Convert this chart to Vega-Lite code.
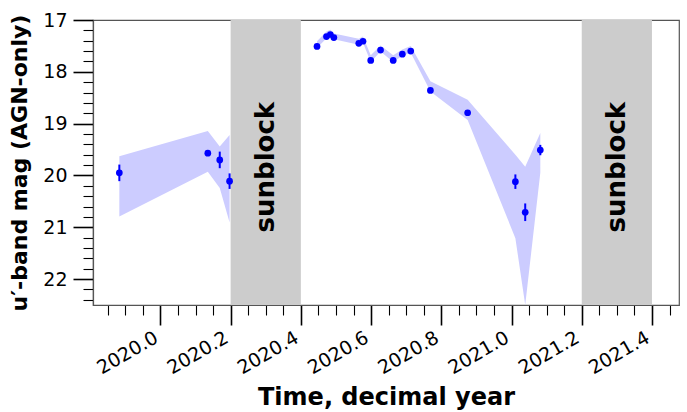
{
  "$schema": "https://vega.github.io/schema/vega-lite/v6.json",
  "width": 586,
  "height": 285,
  "autosize": "none",
  "padding": {"left": 93, "top": 20, "right": 8, "bottom": 107},
  "background": "white",
  "config": {
    "font": "DejaVu Sans",
    "view": {"stroke": "#555555", "strokeWidth": 1.2},
    "axis": {"labelFont": "DejaVu Sans", "titleFont": "DejaVu Sans", "labelColor": "black", "titleColor": "black", "grid": false}
  },
  "datasets": {
    "points": [
      {"t": 2019.883, "m": 19.95, "e": 0.16},
      {"t": 2020.135, "m": 19.57, "e": 0.04},
      {"t": 2020.169, "m": 19.70, "e": 0.16},
      {"t": 2020.197, "m": 20.11, "e": 0.15},
      {"t": 2020.446, "m": 17.51, "e": 0.03},
      {"t": 2020.473, "m": 17.32, "e": 0.03},
      {"t": 2020.484, "m": 17.28, "e": 0.03},
      {"t": 2020.494, "m": 17.34, "e": 0.03},
      {"t": 2020.565, "m": 17.45, "e": 0.03},
      {"t": 2020.577, "m": 17.41, "e": 0.03},
      {"t": 2020.599, "m": 17.78, "e": 0.03},
      {"t": 2020.627, "m": 17.58, "e": 0.03},
      {"t": 2020.663, "m": 17.78, "e": 0.03},
      {"t": 2020.689, "m": 17.66, "e": 0.03},
      {"t": 2020.713, "m": 17.60, "e": 0.03},
      {"t": 2020.769, "m": 18.36, "e": 0.04},
      {"t": 2020.875, "m": 18.79, "e": 0.04},
      {"t": 2021.011, "m": 20.12, "e": 0.14},
      {"t": 2021.039, "m": 20.71, "e": 0.17},
      {"t": 2021.082, "m": 19.51, "e": 0.10}
    ],
    "band": [
      {"season": "A", "t": 2019.883, "lo": 19.63, "hi": 20.79},
      {"season": "A", "t": 2020.135, "lo": 19.14, "hi": 19.93},
      {"season": "A", "t": 2020.169, "lo": 19.44, "hi": 20.24},
      {"season": "A", "t": 2020.197, "lo": 19.22, "hi": 20.91},
      {"season": "B", "t": 2020.446, "lo": 17.41, "hi": 17.54},
      {"season": "B", "t": 2020.473, "lo": 17.22, "hi": 17.35},
      {"season": "B", "t": 2020.484, "lo": 17.19, "hi": 17.31},
      {"season": "B", "t": 2020.494, "lo": 17.26, "hi": 17.37},
      {"season": "B", "t": 2020.565, "lo": 17.36, "hi": 17.48},
      {"season": "B", "t": 2020.577, "lo": 17.32, "hi": 17.44},
      {"season": "B", "t": 2020.599, "lo": 17.68, "hi": 17.81},
      {"season": "B", "t": 2020.627, "lo": 17.49, "hi": 17.61},
      {"season": "B", "t": 2020.663, "lo": 17.68, "hi": 17.81},
      {"season": "B", "t": 2020.689, "lo": 17.57, "hi": 17.69},
      {"season": "B", "t": 2020.713, "lo": 17.50, "hi": 17.63},
      {"season": "B", "t": 2020.769, "lo": 18.18, "hi": 18.38},
      {"season": "B", "t": 2020.875, "lo": 18.54, "hi": 18.93},
      {"season": "B", "t": 2021.011, "lo": 19.60, "hi": 21.21},
      {"season": "B", "t": 2021.039, "lo": 19.83, "hi": 22.5},
      {"season": "B", "t": 2021.082, "lo": 19.18, "hi": 19.95}
    ],
    "sun": [
      {"start": 2020.2, "end": 2020.4, "mid": 2020.3, "label": "sunblock", "ypos": 19.84},
      {"start": 2021.2, "end": 2021.4, "mid": 2021.3, "label": "sunblock", "ypos": 19.84}
    ]
  },
  "layer": [
    {
      "data": {"name": "band"},
      "mark": {"type": "area", "color": "#ccccff", "opacity": 1, "clip": true},
      "encoding": {
        "x": {"field": "t", "type": "quantitative", "scale": {"domain": [2019.808, 2021.477], "nice": false, "zero": false},
          "axis": {"orient": "bottom", "values": [2019.85, 2019.9, 2019.95, 2020.05, 2020.1, 2020.15, 2020.25, 2020.3, 2020.35, 2020.45, 2020.5, 2020.55, 2020.65, 2020.7, 2020.75, 2020.85, 2020.9, 2020.95, 2021.05, 2021.1, 2021.15, 2021.25, 2021.3, 2021.35, 2021.45],
            "labels": false, "domain": false, "ticks": true, "tickSize": 10, "tickWidth": 1.1, "tickColor": "black", "title": null}},
        "y": {"field": "lo", "type": "quantitative", "scale": {"domain": [17, 22.5], "reverse": true, "nice": false, "zero": false},
          "axis": {"orient": "left", "values": [17.2, 17.4, 17.6, 17.8, 18.2, 18.4, 18.6, 18.8, 19.2, 19.4, 19.6, 19.8, 20.2, 20.4, 20.6, 20.8, 21.2, 21.4, 21.6, 21.8, 22.2, 22.4],
            "labels": false, "domain": false, "ticks": true, "tickSize": 10, "tickWidth": 1.1, "tickColor": "black", "title": null}},
        "y2": {"field": "hi"},
        "detail": {"field": "season"}
      }
    },
    {
      "data": {"name": "sun"},
      "mark": {"type": "rect", "color": "#cccccc"},
      "encoding": {
        "x": {"field": "start", "type": "quantitative", "axis": null},
        "x2": {"field": "end"}
      }
    },
    {
      "data": {"name": "points"},
      "transform": [{"calculate": "datum.m - datum.e", "as": "elo"}, {"calculate": "datum.m + datum.e", "as": "ehi"}],
      "mark": {"type": "rule", "color": "#0000ff", "strokeWidth": 2},
      "encoding": {
        "x": {"field": "t", "type": "quantitative", "axis": null},
        "y": {"field": "elo", "type": "quantitative", "axis": null},
        "y2": {"field": "ehi"}
      }
    },
    {
      "data": {"name": "points"},
      "mark": {"type": "circle", "color": "#0000ff", "opacity": 1, "size": 45},
      "encoding": {
        "x": {"field": "t", "type": "quantitative",
          "axis": {"orient": "bottom", "values": [2020.0, 2020.2, 2020.4, 2020.6, 2020.8, 2021.0, 2021.2, 2021.4], "format": ".1f",
            "labelAngle": -30, "labelAlign": "right", "labelBaseline": "top", "labelFontSize": 19, "labelPadding": 3, "labelOffset": -9,
            "tickSize": 20, "tickWidth": 1.6, "tickColor": "black", "domainColor": "#555555", "domainWidth": 1.2,
            "title": "Time, decimal year", "titleFontSize": 24, "titleFontWeight": "bold", "titlePadding": 8}},
        "y": {"field": "m", "type": "quantitative",
          "axis": {"orient": "left", "values": [17, 18, 19, 20, 21, 22], "format": "d",
            "labelFontSize": 19, "labelPadding": 6, "tickSize": 20, "tickWidth": 1.6, "tickColor": "black",
            "domainColor": "#555555", "domainWidth": 1.2,
            "title": "u′-band mag (AGN-only)", "titleFontSize": 22, "titleFontWeight": "bold", "titlePadding": 11}}
      }
    },
    {
      "data": {"name": "sun"},
      "mark": {"type": "text", "angle": 270, "fontSize": 26, "fontWeight": "bold", "color": "black", "align": "center", "baseline": "middle", "font": "DejaVu Sans"},
      "encoding": {
        "x": {"field": "mid", "type": "quantitative", "axis": null},
        "y": {"field": "ypos", "type": "quantitative", "axis": null},
        "text": {"field": "label"}
      }
    }
  ],
  "resolve": {"axis": {"x": "independent", "y": "independent"}}
}
